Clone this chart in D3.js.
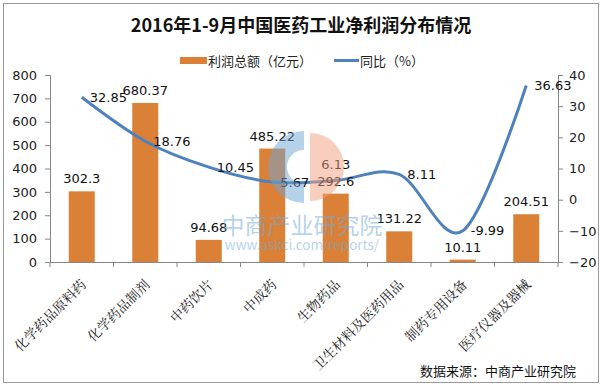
<!DOCTYPE html>
<html>
  <head>
    <meta charset="utf-8">
    <title>2016年1-9月中国医药工业净利润分布情况</title>
    <script src="https://d3js.org/d3.v7.min.js"></script>
    <style>
      body { margin: 0; background: #fff; }
      #chart { width: 602px; height: 386px; display: block; font-family: "Noto Sans CJK SC", "Noto Sans", sans-serif; }
      .axis path, .axis line { stroke: #868686; }
      .axis text { fill: #222; font-size: 13px; font-family: "DejaVu Sans", "Noto Sans CJK SC", sans-serif; }
      .label { font-size: 13px; fill: #111; font-family: "DejaVu Sans", "Noto Sans CJK SC", sans-serif; }
    </style>
  </head>
  <body>
    <svg id="chart"></svg>
    <script>
      // data
      categories = ["化学药品原料药", "化学药品制剂", "中药饮片", "中成药", "生物药品", "卫生材料及医药用品", "制药专用设备", "医疗仪器及器械"];
      profit = [302.3, 680.37, 94.68, 485.22, 292.6, 131.22, 10.11, 204.51];
      growth = [32.85, 18.76, 10.45, 5.67, 6.13, 8.11, -9.99, 36.63];
      leftTicks = [0, 100, 200, 300, 400, 500, 600, 700, 800];
      rightTicks = [-20, -10, 0, 10, 20, 30, 40];
      growthLabelPos = ["r", "r", "r", "r", "t", "r", "r", "r"];

      width = 602;
      height = 386;
      margin = { top: 75, right: 44, bottom: 124, left: 50 };
      orange = "#DA8137";
      blue = "#4F81BD";

      chart = d3.select("#chart");

      // outer frame
      chart.append("rect")
        .attr("x", 3.5).attr("y", 3.5)
        .attr("width", width - 7).attr("height", height - 7)
        .attr("fill", "none")
        .attr("stroke", "#999");

      x = d3.scaleBand()
        .domain(categories)
        .range([margin.left, width - margin.right]);
      y = d3.scaleLinear()
        .domain([0, 800])
        .range([height - margin.bottom, margin.top]);
      y2 = d3.scaleLinear()
        .domain([-20, 40])
        .range([height - margin.bottom, margin.top]);
      barWidth = x.bandwidth() * 0.41;

      // bars
      chart.append("g")
        .selectAll("rect")
          .data(profit)
        .enter().append("rect")
          .attr("x", function(d, i) { return x(categories[i]) + (x.bandwidth() - barWidth) / 2; })
          .attr("y", function(d) { return y(d); })
          .attr("width", barWidth)
          .attr("height", function(d) { return y(0) - y(d); })
          .attr("fill", orange);

      // axes
      xAxis = d3.axisBottom(x).tickSize(0).tickFormat("");
      chart.append("g")
        .classed("axis", true)
        .attr("transform", "translate(0," + y(0) + ")")
        .call(xAxis);
      chart.append("g")
        .classed("axis", true)
        .selectAll("line")
          .data(d3.range(categories.length + 1))
        .enter().append("line")
          .attr("x1", function(d) { return margin.left + d * x.step(); })
          .attr("x2", function(d) { return margin.left + d * x.step(); })
          .attr("y1", y(0))
          .attr("y2", y(0) + 5);
      chart.append("g")
        .classed("axis", true)
        .attr("transform", "translate(" + margin.left + ",0)")
        .call(d3.axisLeft(y).tickValues(leftTicks).tickSizeOuter(0).tickSize(5).tickPadding(8));
      chart.append("g")
        .classed("axis", true)
        .attr("transform", "translate(" + (width - margin.right) + ",0)")
        .call(d3.axisRight(y2).tickValues(rightTicks).tickSizeOuter(0).tickSize(5).tickPadding(6));

      // category labels
      chart.append("g")
        .selectAll("text")
          .data(categories)
        .enter().append("text")
          .attr("transform", function(d) {
            return "translate(" + (x(d) + x.bandwidth() / 2 + 2) + "," + (y(0) + 20) + ") rotate(-45)";
          })
          .attr("text-anchor", "end")
          .attr("dy", "0.35em")
          .attr("font-size", 13.5)
          .attr("fill", "#222")
          .attr("font-family", "\"Noto Serif CJK SC\", \"Noto Sans CJK SC\", serif")
          .text(function(d) { return d; });

      // growth line
      line = d3.line()
        .x(function(d, i) { return x(categories[i]) + x.bandwidth() / 2; })
        .y(function(d) { return y2(d); })
        .curve(d3.curveCardinal.tension(0));
      chart.append("path")
        .datum(growth)
        .attr("d", line)
        .attr("fill", "none")
        .attr("stroke", blue)
        .attr("stroke-width", 3);

      // data labels
      chart.append("g")
        .selectAll("text")
          .data(profit)
        .enter().append("text")
          .classed("label", true)
          .attr("x", function(d, i) { return x(categories[i]) + x.bandwidth() / 2; })
          .attr("y", function(d) { return y(d) - 8; })
          .attr("text-anchor", "middle")
          .text(function(d) { return d; });
      chart.append("g")
        .selectAll("text")
          .data(growth)
        .enter().append("text")
          .classed("label", true)
          .attr("x", function(d, i) {
            cx = x(categories[i]) + x.bandwidth() / 2;
            return growthLabelPos[i] == "t" ? cx : cx + 8;
          })
          .attr("y", function(d, i) { return growthLabelPos[i] == "t" ? y2(d) - 16 : y2(d); })
          .attr("dy", "0.35em")
          .attr("text-anchor", function(d, i) { return growthLabelPos[i] == "t" ? "middle" : "start"; })
          .text(function(d) { return d; });

      // watermark, drawn over the plot
      wm = chart.append("g").attr("opacity", 0.5);
      wm.append("path")
        .attr("transform", "translate(304,167)")
        .attr("d", d3.arc().innerRadius(17).outerRadius(36).startAngle(Math.PI).endAngle(2 * Math.PI)())
        .attr("fill", "#6fa6d4");
      wm.append("path")
        .attr("transform", "translate(310,167)")
        .attr("d", d3.arc().innerRadius(0).outerRadius(34).startAngle(0).endAngle(Math.PI)())
        .attr("fill", "#f2a07f");
      wm.append("text")
        .attr("x", 302).attr("y", 234)
        .attr("text-anchor", "middle")
        .attr("font-size", 23)
        .attr("fill", "#6fa9d8")
        .text("中商产业研究院");
      wm.append("text")
        .attr("x", 302).attr("y", 250)
        .attr("text-anchor", "middle")
        .attr("font-size", 13.5)
        .attr("fill", "#6fa9d8")
        .text("www.askci.com/reports/");

      // title
      chart.append("text")
        .attr("x", 301).attr("y", 32)
        .attr("text-anchor", "middle")
        .attr("font-size", 18)
        .attr("font-weight", "bold")
        .attr("fill", "#111")
        .text("2016年1-9月中国医药工业净利润分布情况");

      // legend
      legend = chart.append("g").attr("font-size", 13).attr("fill", "#222");
      legend.append("rect")
        .attr("x", 180).attr("y", 57)
        .attr("width", 27).attr("height", 7)
        .attr("fill", orange);
      legend.append("text")
        .attr("x", 208).attr("y", 61).attr("dy", "0.35em")
        .text("利润总额（亿元）");
      legend.append("line")
        .attr("x1", 334).attr("x2", 359)
        .attr("y1", 60.5).attr("y2", 60.5)
        .attr("stroke", blue).attr("stroke-width", 3);
      legend.append("text")
        .attr("x", 360).attr("y", 61).attr("dy", "0.35em")
        .text("同比（%）");

      // source
      chart.append("text")
        .attr("x", 576).attr("y", 371)
        .attr("text-anchor", "end")
        .attr("dy", "0.35em")
        .attr("font-size", 13)
        .attr("fill", "#111")
        .text("数据来源：中商产业研究院");
    </script>
  </body>
</html>
